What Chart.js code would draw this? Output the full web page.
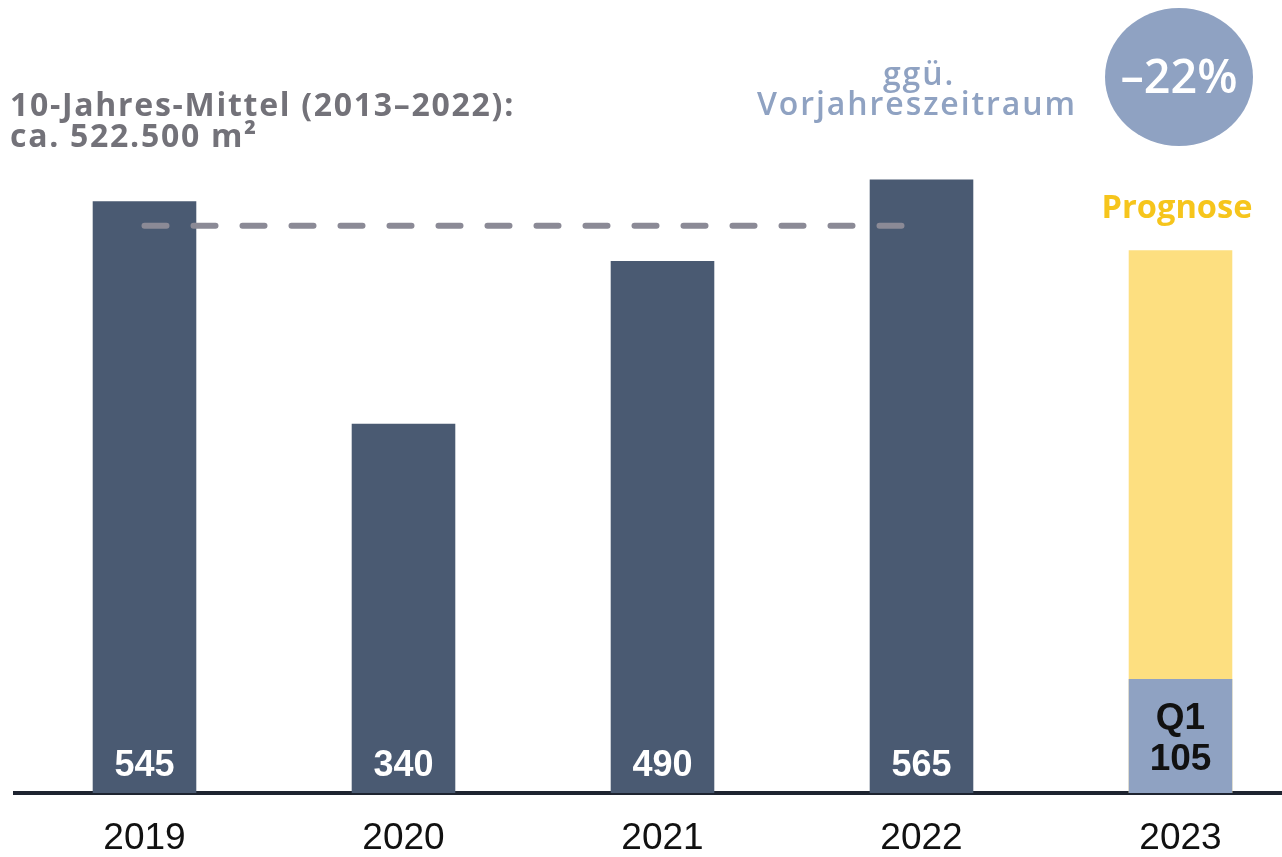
<!DOCTYPE html>
<html>
<head>
<meta charset="utf-8">
<script src="https://cdn.jsdelivr.net/npm/chart.js@4"></script>
<style>
  body { margin: 0; background: #fff; overflow: hidden; }
  canvas { display: block; }
</style>
</head>
<body>
<canvas id="chart" width="1310" height="857"></canvas>
<script>
// Flächenumsatz in Tsd. m², 2023 = Q1 + Prognose
const years = ['2019', '2020', '2021', '2022', '2023'];
const umsatz = [545, 340, 490, 565, null];
const q1 = [null, null, null, null, 105];
const prognose = [null, null, null, null, 500];
const mittel = [522.5, 522.5, 522.5, 522.5, null];

const dark = '#4a5a72';
const lightBlue = '#8fa2c2';
const yellow = '#fddf80';
const headFont = '"Open Sans", sans-serif';
const numFont = '"Liberation Sans", Arial, sans-serif';

// pick a font size so the text gets the wanted width
function fitFont(ctx, text, width, weight) {
  ctx.font = weight + ' 100px ' + headFont;
  const size = 100 * width / ctx.measureText(text).width;
  ctx.font = weight + ' ' + size.toFixed(1) + 'px ' + headFont;
}

// fixed size, spread the letters to reach the width
function spreadFont(ctx, text, width, font) {
  ctx.font = font;
  ctx.letterSpacing = '0px';
  const extra = (width - ctx.measureText(text).width) / text.length;
  ctx.letterSpacing = Math.max(0, extra).toFixed(2) + 'px';
}

// Text labels inside the bars and the annotations on top
const labelPlugin = {
  id: 'labels',
  afterDraw(chart) {
    const ctx = chart.ctx;
    ctx.save();
    ctx.textAlign = 'center';
    ctx.textBaseline = 'alphabetic';

    // values at the bottom of the bars
    ctx.fillStyle = '#fff';
    ctx.font = 'bold 36px ' + numFont;
    chart.getDatasetMeta(0).data.forEach((bar, i) => {
      if (umsatz[i] == null) return;
      ctx.fillText(String(umsatz[i]), bar.x, 776);
    });

    // Q1 label
    const q1Bar = chart.getDatasetMeta(1).data[4];
    ctx.fillStyle = '#111';
    ctx.font = 'bold 37px ' + numFont;
    ctx.fillText('Q1', q1Bar.x, 729);
    ctx.fillText(String(q1[4]), q1Bar.x, 770);

    // Prognose above yellow bar
    ctx.fillStyle = '#f6c51c';
    fitFont(ctx, 'Prognose', 151, 'bold');
    ctx.fillText('Prognose', 1177, 218);

    // 10-Jahres-Mittel
    ctx.textAlign = 'left';
    ctx.fillStyle = '#737279';
    spreadFont(ctx, '10-Jahres-Mittel (2013\u20132022):', 505, 'bold 32px ' + headFont);
    ctx.fillText('10-Jahres-Mittel (2013\u20132022):', 10, 116);
    ctx.fillText('ca. 522.500 m\u00b2', 10, 147);
    ctx.letterSpacing = '0px';

    // ggü. Vorjahreszeitraum
    ctx.textAlign = 'center';
    ctx.fillStyle = lightBlue;
    spreadFont(ctx, 'Vorjahreszeitraum', 320, '600 32px ' + headFont);
    ctx.fillText('gg\u00fc.', 919, 85);
    ctx.fillText('Vorjahreszeitraum', 917, 115);
    ctx.letterSpacing = '0px';

    // badge
    ctx.beginPath();
    ctx.ellipse(1179, 77, 74, 69, 0, 0, Math.PI * 2);
    ctx.fillStyle = lightBlue;
    ctx.fill();
    ctx.fillStyle = '#fff';
    fitFont(ctx, '\u201322%', 117, '600');
    ctx.fillText('\u201322%', 1179, 93);

    ctx.restore();
  }
};

new Chart(document.getElementById('chart'), {
  data: {
    labels: years,
    datasets: [
      { type: 'bar', data: umsatz, backgroundColor: dark, order: 3 },
      { type: 'bar', data: q1, backgroundColor: lightBlue, order: 2 },
      { type: 'bar', data: prognose, backgroundColor: yellow, order: 4 },
      {
        type: 'line', data: mittel, borderColor: '#8b8a96', borderWidth: 6,
        borderDash: [22, 27], borderCapStyle: 'round', pointRadius: 0,
        fill: false, order: 1
      }
    ]
  },
  options: {
    responsive: false,
    animation: false,
    layout: { padding: { left: 15, right: 0, top: 33, bottom: 0 } },
    datasets: { bar: { barPercentage: 0.4, categoryPercentage: 1 } },
    plugins: { legend: { display: false }, tooltip: { enabled: false } },
    scales: {
      x: {
        stacked: true,
        afterFit(scale) { scale.height = 64; },
        grid: { display: false, drawTicks: false },
        border: { display: true, color: '#1e2430', width: 4 },
        ticks: {
          color: '#111', padding: 25,
          font: { family: numFont, size: 37, lineHeight: 1.1 }
        }
      },
      y: { display: false, stacked: false, min: 0, max: 700 }
    }
  },
  plugins: [labelPlugin]
});
</script>
</body>
</html>
